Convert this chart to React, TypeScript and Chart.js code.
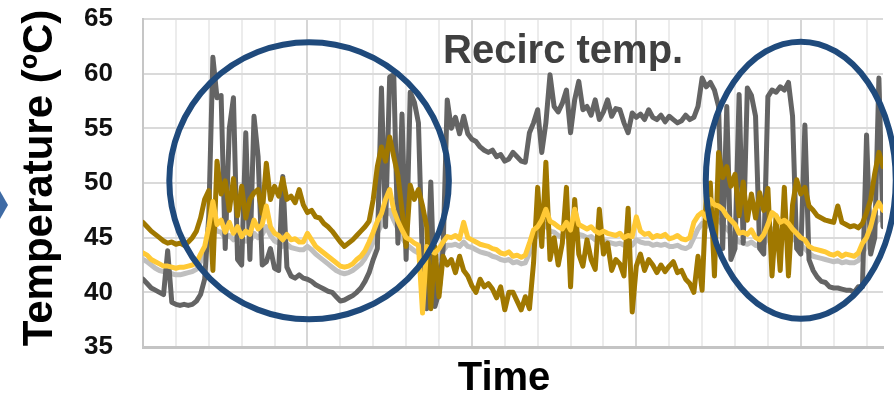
import React, { useEffect, useRef } from "react";
import { Chart, registerables } from "chart.js";

Chart.register(...registerables);

// Samples (uniform time steps); 8 samples per vertical grid interval
const X_MAX = 180;
const X_STEP = 8;
const Y_TICKS = [35, 40, 45, 50, 55, 60, 65];

const RECIRC = [
  41.2, 40.8, 40.4, 40.2, 40.0, 39.8, 43.8, 39.1, 38.9, 38.8,
  38.9, 38.8, 38.9, 39.2, 39.8, 41.2, 47.0, 61.5, 57.8, 58.0,
  44.0, 55.0, 57.8, 43.0, 42.5, 54.6, 43.0, 56.1, 52.4, 42.5,
  42.8, 44.0, 42.2, 42.0, 50.6, 42.3, 41.5, 41.3, 41.6, 41.3,
  41.2, 41.0, 40.7, 40.5, 40.3, 40.1, 40.0, 39.6, 39.2, 39.3,
  39.5, 39.7, 40.0, 40.4, 41.0, 41.8, 43.0, 44.0, 58.7, 46.0,
  59.7, 59.9, 44.5, 56.3, 43.0, 58.3, 57.4, 55.5, 42.4, 38.5,
  50.1, 38.7, 40.0, 44.0, 57.6, 55.0, 56.0, 54.5, 56.1, 54.5,
  54.0, 53.8, 53.3, 53.0, 52.8, 53.0, 52.4, 52.6, 52.0, 52.2,
  52.8, 52.4, 52.0, 51.9, 54.6, 55.5, 56.7, 52.8, 55.5, 59.9,
  57.0, 56.5, 57.3, 58.5, 54.6, 57.6, 59.3, 56.7, 57.0, 56.2,
  57.6, 55.8, 56.5, 57.6, 56.1, 56.8, 56.7, 55.5, 54.6, 56.4,
  56.0, 56.3, 55.8, 56.7, 56.0, 55.8, 56.2, 55.6, 56.1, 55.8,
  55.5, 55.7, 56.2, 55.8, 56.0, 57.0, 59.6, 58.8, 59.2, 58.5,
  57.0, 44.0, 57.0, 43.0, 44.0, 58.1, 44.5, 58.7, 58.0, 56.1,
  44.0, 43.5, 57.9, 58.5, 58.3, 58.8, 58.5, 59.2, 56.1, 44.0,
  43.5, 55.3, 43.0, 42.0, 41.4, 41.0, 40.9, 40.5, 40.4, 40.4,
  40.3, 40.2, 40.2, 40.0, 40.5, 40.5, 54.4, 43.5, 45.0, 59.6,
  46.0,
];

const GOLD = [
  46.4, 46.0, 45.6, 45.3, 45.0, 44.7, 44.5, 44.6, 44.4, 44.5,
  44.3, 44.6, 45.0, 45.6, 46.8, 48.5, 49.3, 42.0, 52.0, 49.0,
  50.2, 47.5, 50.4, 47.0, 49.7, 46.8, 48.5, 49.1, 49.4, 47.2,
  51.8, 48.5, 49.7, 48.8, 50.4, 48.5, 48.8, 48.2, 49.4, 48.0,
  47.3, 47.5, 46.9, 46.8, 46.3, 46.0, 45.6, 45.1, 44.6, 44.2,
  44.5, 44.8, 45.2, 45.6, 46.0, 46.5, 48.5, 51.5, 53.3, 52.0,
  54.2, 52.4, 50.7, 47.5, 44.2, 49.8, 48.5, 49.4, 47.9, 46.0,
  38.5, 44.2, 39.6, 43.3, 42.5, 43.0, 41.8, 43.3, 42.0, 41.5,
  40.6, 40.0, 41.2, 40.5, 40.8, 40.3, 39.5, 40.5, 38.4, 40.0,
  40.0, 39.2, 38.4, 39.6, 38.5, 42.7, 49.6, 44.2, 51.9, 43.0,
  45.0, 42.5, 44.5, 49.6, 40.5, 48.5, 43.5, 42.4, 44.8, 43.0,
  42.1, 47.6, 43.5, 44.5, 42.0, 43.0, 42.6, 41.5, 47.7, 38.2,
  42.4, 43.5, 42.0, 43.0, 42.5, 41.8, 42.5, 41.9, 42.4, 42.8,
  41.8, 42.0, 41.2, 40.8, 40.0, 43.3, 40.2, 48.8, 50.0, 41.5,
  52.8, 50.5, 51.5, 49.7, 50.8, 47.0, 50.1, 46.6, 49.0, 46.8,
  49.1, 47.5, 49.5, 41.5, 47.0, 42.0, 49.6, 41.5, 48.0, 50.3,
  49.0, 49.6, 47.9, 47.5, 47.0, 46.8, 46.6, 46.5, 46.4, 47.9,
  46.4, 46.2, 46.0, 46.1, 45.9, 46.3, 47.3, 48.5, 50.9, 52.8,
  51.5,
];

const YELLOW = [
  43.6, 43.4, 43.0, 42.8, 42.6, 42.4, 42.4, 42.3, 42.2, 42.3,
  42.3, 42.4, 42.5, 42.7, 43.5, 44.2, 46.0, 48.3, 46.2, 46.6,
  45.5, 46.4, 45.4, 46.0, 45.1, 45.6, 45.3, 46.6, 45.8, 46.2,
  47.9, 46.0, 45.4, 45.2, 44.8, 45.3, 44.8, 44.9, 44.6, 44.6,
  45.4, 44.8, 44.2, 43.9, 43.6, 43.3, 43.0, 42.7, 42.4, 42.3,
  42.4, 42.6, 43.0, 43.3, 43.8, 44.6, 45.5, 46.5, 47.2, 48.5,
  49.4, 47.5, 46.5, 45.7, 45.0, 44.8, 44.5, 44.3, 38.1, 44.2,
  43.8, 43.6, 44.0, 44.6, 45.1, 45.0, 45.2, 44.9, 46.4, 45.0,
  44.8, 44.6, 44.4, 44.3, 44.2, 44.0, 43.9, 43.6, 43.5, 43.7,
  43.3, 43.4, 43.2, 43.4, 44.5, 45.7, 46.0, 46.6, 47.6, 46.5,
  46.3, 46.0, 45.8, 46.4, 45.7, 47.6, 46.2, 46.0, 45.8, 46.0,
  45.6, 45.4, 45.6, 45.4, 45.3, 45.2, 45.4, 45.0, 45.2, 45.1,
  46.9, 45.6, 45.3, 45.4, 45.0, 45.2, 45.1, 45.3, 44.9, 45.0,
  45.2, 44.9, 44.8, 45.0, 46.4, 47.0, 47.3, 46.8, 48.5, 48.0,
  47.9, 47.6, 47.0, 46.6, 46.2, 45.4, 45.5, 45.3, 45.7, 45.0,
  44.8, 45.3, 46.2, 47.3, 47.0, 46.4, 46.6, 46.3, 45.8, 45.4,
  45.0, 44.8, 44.2, 44.0, 43.9, 43.8, 43.7, 43.5, 43.4, 43.6,
  43.3, 43.5, 43.4, 43.3, 43.6, 44.5, 45.0, 46.0, 47.5, 48.2,
  47.5,
];

const LIGHT = [
  43.0, 42.8, 42.5, 42.2, 42.0, 41.9, 41.8, 41.7, 41.6, 41.6,
  41.7, 41.8, 41.9, 42.1, 42.8, 43.6, 45.0, 46.2, 45.6, 45.5,
  45.0, 45.2, 44.8, 45.0, 44.6, 44.7, 44.6, 45.4, 45.0, 45.3,
  46.0, 45.2, 44.7, 44.5, 44.2, 44.4, 44.1, 44.0, 43.9, 43.9,
  44.2, 43.9, 43.5, 43.2, 42.9, 42.6, 42.3, 42.0, 41.8, 41.7,
  41.8, 42.0, 42.3, 42.6, 43.1, 43.8, 44.6, 45.4, 46.2, 47.0,
  47.5, 46.6, 45.8, 45.0, 44.4, 44.1, 43.8, 43.6, 43.2, 43.2,
  43.0, 42.9, 43.2, 43.8, 44.3, 44.3, 44.4, 44.2, 44.6, 44.2,
  44.1, 43.9, 43.7, 43.6, 43.5, 43.3, 43.2, 43.0, 42.9, 43.0,
  42.7, 42.8, 42.6, 42.7, 43.6, 44.8, 45.3, 45.7, 46.2, 45.6,
  45.5, 45.2, 45.0, 45.3, 45.0, 45.6, 45.3, 45.2, 45.0, 45.1,
  44.8, 44.6, 44.7, 44.6, 44.5, 44.4, 44.5, 44.3, 44.4, 44.3,
  44.8, 44.6, 44.5, 44.5, 44.3, 44.4, 44.3, 44.4, 44.2, 44.2,
  44.3, 44.1, 44.0, 44.2, 45.0, 45.8, 46.3, 46.0, 46.8, 46.8,
  46.6, 46.2, 45.8, 45.4, 45.0, 44.6, 44.5, 44.4, 44.6, 44.3,
  44.2, 44.4, 45.0, 45.8, 45.8, 45.5, 45.5, 45.3, 45.0, 44.6,
  44.3, 44.0, 43.6, 43.3, 43.2, 43.1, 43.0, 42.9, 42.8, 42.9,
  42.7, 42.8, 42.7, 42.7, 42.9, 43.6, 44.2, 45.0, 46.2, 46.8,
  46.5,
];

const Y_TITLE = "Temperature (ºC)";
const X_TITLE = "Time";
const NOTE = "Recirc temp.";

const FONT = '"Liberation Sans", Arial, Helvetica, sans-serif';

const toPoints = (arr: number[]) => arr.map((v, i) => ({ x: i, y: v }));

const overlayPlugin = {
  id: "overlay",
  afterDatasetsDraw(chart: any) {
    const { ctx, scales } = chart;
    const xs = scales.x;
    const ys = scales.y;
    ctx.save();
    // highlight ellipses (center & radii in data units)
    const ellipses = [
      { cx: 40.4, cy: 50.2, rx: 34.0, ry: 12.67 },
      { cx: 160.0, cy: 50.25, rx: 23.1, ry: 12.67 },
    ];
    ctx.strokeStyle = "#1F4A7C";
    ctx.lineWidth = 6;
    for (const e of ellipses) {
      const cx = xs.getPixelForValue(e.cx);
      const cy = ys.getPixelForValue(e.cy);
      const rx = Math.abs(xs.getPixelForValue(e.cx + e.rx) - cx);
      const ry = Math.abs(ys.getPixelForValue(e.cy + e.ry) - cy);
      ctx.beginPath();
      ctx.ellipse(cx, cy, rx, ry, 0, 0, Math.PI * 2);
      ctx.stroke();
    }
    // note text
    ctx.fillStyle = "#404040";
    ctx.font = `bold 40px ${FONT}`;
    ctx.textAlign = "left";
    ctx.textBaseline = "alphabetic";
    ctx.fillText(NOTE, xs.getPixelForValue(73), 63);
    ctx.restore();
  },
  afterDraw(chart: any) {
    const { ctx } = chart;
    ctx.save();
    // y title
    ctx.fillStyle = "#000";
    ctx.font = `bold 42px ${FONT}`;
    ctx.textAlign = "center";
    ctx.textBaseline = "alphabetic";
    ctx.translate(52, 178);
    ctx.rotate(-Math.PI / 2);
    ctx.fillText(Y_TITLE, 0, 0);
    ctx.restore();
    ctx.save();
    // x title
    ctx.fillStyle = "#000";
    ctx.font = `bold 40px ${FONT}`;
    ctx.textAlign = "center";
    ctx.textBaseline = "alphabetic";
    ctx.fillText(X_TITLE, 504, 390);
    // left arrow marker
    ctx.fillStyle = "#3F6BA5";
    ctx.beginPath();
    ctx.moveTo(0, 191);
    ctx.lineTo(8, 205);
    ctx.lineTo(0, 219);
    ctx.closePath();
    ctx.fill();
    ctx.restore();
  },
};

export default function App() {
  const ref = useRef<HTMLCanvasElement | null>(null);
  useEffect(() => {
    document.body.style.margin = "0";
    const canvas = ref.current!;
    const common = {
      pointRadius: 0,
      borderWidth: 5,
      tension: 0,
      borderJoinStyle: "round" as const,
      borderCapStyle: "round" as const,
      fill: false,
    };
    const chart = new Chart(canvas, {
      type: "line",
      data: {
        datasets: [
          { ...common, label: "Yellow", data: toPoints(YELLOW), borderColor: "#FFC935", order: 0 },
          { ...common, label: "Gold", data: toPoints(GOLD), borderColor: "#A07800", order: 1 },
          { ...common, label: "Recirc", data: toPoints(RECIRC), borderColor: "#646464", order: 2 },
          { ...common, label: "Light", data: toPoints(LIGHT), borderColor: "#BFBFBF", order: 3 },
        ],
      },
      options: {
        animation: false,
        responsive: false,
        devicePixelRatio: 1,
        layout: { padding: { left: 0, right: 11, top: 19, bottom: 49 } },
        plugins: { legend: { display: false }, tooltip: { enabled: false } },
        scales: {
          x: {
            type: "linear",
            min: 0,
            max: X_MAX,
            ticks: { stepSize: X_STEP, display: false, includeBounds: false },
            grid: {
              drawTicks: false,
              lineWidth: 2,
              color: (c: any) => (c.tick && c.tick.value % (X_STEP * 5) === 0 ? "#d6d6d6" : "#ececec"),
            },
            border: { display: true, color: "#c4c4c4", width: 3 },
            afterFit: (s: any) => {
              s.height = 0;
              s.paddingLeft = 0;
              s.paddingRight = 0;
            },
          },
          y: {
            min: 35,
            max: 65,
            afterBuildTicks: (s: any) => {
              s.ticks = Y_TICKS.map((v) => ({ value: v }));
            },
            ticks: {
              padding: 30,
              color: "#111",
              font: { family: FONT, size: 26, weight: "bold" },
            },
            grid: { drawTicks: false, lineWidth: 2, color: "#dadada" },
            border: { display: true, color: "#c6c6c6", width: 2 },
            afterFit: (s: any) => {
              s.width = 143;
              s.paddingTop = 0;
              s.paddingBottom = 0;
            },
          },
        },
      },
      plugins: [overlayPlugin],
    } as any);
    return () => chart.destroy();
  }, []);
  return (
    <canvas
      ref={ref}
      width={894}
      height={396}
      style={{ display: "block", width: 894, height: 396 }}
    />
  );
}
